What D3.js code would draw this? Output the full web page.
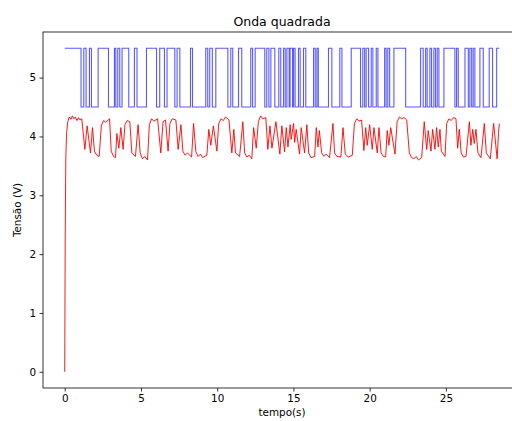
<!DOCTYPE html>
<html>
<head>
<meta charset="utf-8">
<script src="https://cdn.jsdelivr.net/npm/d3@7"></script>
<style>
  body { margin: 0; background: #fff; }
  svg { display: block; font-family: "DejaVu Sans", sans-serif; }
</style>
</head>
<body>
<div id="chart"></div>
<script>
// square wave: times where the level changes (step-after), and the level from that time on
const blueTime = [0, 1.07, 1.25, 1.40, 1.62, 1.75, 2.19, 2.87, 3.26, 3.35, 3.48, 3.61, 3.76, 4.20,
  4.57, 4.74, 5.36, 6.02, 6.23, 6.54, 6.71, 7.22, 7.37, 7.55, 8.25, 8.38, 9.25, 9.38, 9.51, 9.68,
  9.91, 10.70, 10.89, 11.02, 11.40, 11.61, 12.20, 12.32, 12.49, 13.12, 13.25, 13.39, 13.52, 13.78,
  14.04, 14.17, 14.35, 14.46, 14.57, 14.72, 14.78, 14.94, 15.01, 15.11, 15.33, 15.44, 15.66, 15.81,
  16.32, 16.43, 16.54, 16.63, 17.30, 17.52, 18.04, 18.18, 18.79, 19.40, 19.55, 19.67, 19.77, 19.93,
  20.10, 20.21, 20.43, 20.54, 20.98, 21.08, 21.19, 21.31, 21.59, 22.36, 23.34, 23.51, 23.67, 23.77,
  23.95, 24.06, 24.21, 24.32, 24.43, 24.54, 24.87, 25.59, 25.70, 25.81, 26.25, 26.47, 26.57, 26.69,
  26.79, 26.90, 27.23, 27.45, 27.84, 28.06, 28.33, 28.50];
const blueLevel = [5.5, 4.5, 5.5, 4.5, 5.5, 4.5, 5.5, 4.5, 5.5, 4.5, 5.5, 4.5, 5.5, 4.5,
  5.5, 4.5, 5.5, 4.5, 5.5, 4.5, 5.5, 4.5, 5.5, 4.5, 5.5, 4.5, 5.5, 4.5, 5.5, 4.5,
  5.5, 4.5, 5.5, 4.5, 5.5, 4.5, 5.5, 4.5, 5.5, 4.5, 5.5, 4.5, 5.5, 4.5,
  5.5, 4.5, 5.5, 4.5, 5.5, 4.5, 5.5, 4.5, 5.5, 4.5, 5.5, 4.5, 5.5, 4.5,
  5.5, 4.5, 5.5, 4.5, 5.5, 4.5, 5.5, 4.5, 5.5, 4.5, 5.5, 4.5, 5.5, 4.5,
  5.5, 4.5, 5.5, 4.5, 5.5, 4.5, 5.5, 4.5, 5.5, 4.5, 5.5, 4.5, 5.5, 4.5,
  5.5, 4.5, 5.5, 4.5, 5.5, 4.5, 5.5, 4.5, 5.5, 4.5, 5.5, 4.5, 5.5, 4.5,
  5.5, 4.5, 5.5, 4.5, 5.5, 4.5, 5.5, 5.5];

const redTime = [0, 0.03, 0.07, 0.12, 0.2, 0.3, 0.4, 0.5, 0.6, 0.7, 0.8, 0.9, 1.0, 1.12,
  1.32, 1.47, 1.69, 1.82, 1.95, 2.1, 2.26, 2.4, 2.55, 2.7, 2.94, 3.05, 3.2, 3.33, 3.42, 3.55,
  3.68, 3.83, 3.95, 4.1, 4.27, 4.4, 4.64, 4.81, 4.95, 5.1, 5.25, 5.43, 5.55, 5.7, 5.85, 6.09,
  6.3, 6.45, 6.61, 6.78, 6.9, 7.05, 7.29, 7.44, 7.62, 7.75, 7.9, 8.05, 8.32, 8.45, 8.6, 8.75,
  8.9, 9.05, 9.32, 9.45, 9.58, 9.75, 9.98, 10.1, 10.25, 10.4, 10.55, 10.77, 10.96, 11.09, 11.2,
  11.47, 11.68, 11.8, 11.95, 12.1, 12.27, 12.39, 12.56, 12.7, 12.85, 13.0, 13.19, 13.32, 13.46,
  13.59, 13.85, 14.11, 14.24, 14.42, 14.53, 14.64, 14.79, 14.85, 15.01, 15.08, 15.18, 15.4,
  15.51, 15.73, 15.88, 16.0, 16.15, 16.39, 16.5, 16.61, 16.7, 16.85, 17.0, 17.15, 17.37, 17.59,
  17.7, 17.85, 18.11, 18.25, 18.4, 18.6, 18.86, 19.0, 19.15, 19.3, 19.47, 19.62, 19.74, 19.84,
  20.0, 20.17, 20.28, 20.5, 20.61, 20.75, 20.9, 21.05, 21.15, 21.26, 21.38, 21.66, 21.8, 21.95,
  22.1, 22.25, 22.43, 22.6, 22.75, 22.9, 23.05, 23.2, 23.41, 23.58, 23.74, 23.84, 24.02, 24.13,
  24.28, 24.39, 24.5, 24.61, 24.7, 24.94, 25.05, 25.2, 25.35, 25.5, 25.66, 25.77, 25.88, 26.0,
  26.15, 26.32, 26.54, 26.64, 26.76, 26.86, 26.97, 27.1, 27.3, 27.52, 27.65, 27.91, 28.13,
  28.36, 28.45, 28.5];
const redValue = [0, 2.2, 3.6, 4.05, 4.25, 4.33, 4.29, 4.35, 4.3, 4.33, 4.27, 4.32, 4.28, 4.3,
  3.78, 4.18, 3.72, 4.15, 3.75, 3.68, 3.66, 4.18, 4.27, 4.24, 4.3, 3.75, 3.66, 3.64, 4.05, 3.8,
  4.15, 3.78, 4.2, 4.27, 4.25, 3.72, 3.66, 4.2, 3.72, 3.62, 3.66, 3.6, 4.2, 4.3, 4.26, 4.3,
  3.72, 4.25, 4.28, 3.75, 4.22, 4.3, 4.28, 3.78, 4.2, 3.75, 3.68, 3.72, 3.65, 4.22, 3.74, 3.66,
  3.7, 3.64, 3.68, 4.12, 3.85, 4.18, 3.75, 4.22, 4.3, 4.27, 4.33, 4.28, 3.72, 4.12, 3.72,
  3.66, 4.25, 3.72, 3.65, 3.68, 3.62, 4.15, 3.8, 4.25, 4.35, 4.3, 4.32, 3.78, 4.18,
  3.8, 4.25, 3.7, 4.18, 3.74, 4.15, 3.82, 4.2, 3.95, 4.22, 3.9, 4.12, 3.7,
  4.15, 3.72, 4.2, 3.72, 3.64, 3.66, 4.15, 3.82, 4.1, 3.72, 3.66, 3.7, 3.64, 4.22,
  3.72, 3.66, 3.65, 4.15, 3.7, 3.65, 3.68, 4.22, 4.3, 4.26, 4.28, 3.76, 4.15, 3.85,
  4.2, 3.78, 4.15, 3.72, 4.15, 3.72, 3.66, 3.65, 4.1, 3.85, 4.15, 3.7, 4.25, 4.33,
  4.3, 4.32, 4.28, 3.72, 3.64, 3.62, 3.66, 3.6, 3.64, 4.25, 3.78, 4.1, 3.75, 4.12,
  3.78, 4.15, 3.82, 4.12, 3.75, 3.66, 4.22, 4.3, 4.27, 4.32, 4.3, 3.8, 4.12, 3.72,
  3.65, 3.66, 4.25, 3.85, 4.12, 3.88, 4.12, 3.72, 3.64, 4.22, 3.72, 3.62, 4.22,
  3.62, 4.05, 4.22];

const xTicks = [0, 5, 10, 15, 20, 25];
const yTicks = [0, 1, 2, 3, 4, 5];

const width = 512, height = 421;
const margin = { top: 32, right: -9, bottom: 33, left: 43 };

const svg = d3.select('#chart').append('svg')
  .attr('width', width)
  .attr('height', height);

const x = d3.scaleLinear().domain([-1.425, 29.925]).range([margin.left, width - margin.right]);
const y = d3.scaleLinear().domain([-0.275, 5.775]).range([height - margin.bottom, margin.top]);

const clip = svg.append('clipPath').attr('id', 'plot')
  .append('rect')
  .attr('x', margin.left).attr('y', margin.top)
  .attr('width', width - margin.right - margin.left)
  .attr('height', height - margin.bottom - margin.top);

const plot = svg.append('g').attr('clip-path', 'url(#plot)');

const blue = blueTime.map((t, i) => [t, blueLevel[i]]);
const red = redTime.map((t, i) => [t, redValue[i]]);

plot.append('path')
  .datum(blue)
  .attr('fill', 'none')
  .attr('stroke', '#0000ff')
  .attr('stroke-opacity', 0.65)
  .attr('stroke-width', 1.1)
  .attr('d', d3.line().x(d => x(d[0])).y(d => y(d[1])).curve(d3.curveStepAfter));

plot.append('path')
  .datum(red)
  .attr('fill', 'none')
  .attr('stroke', '#ff0000')
  .attr('stroke-opacity', 0.9)
  .attr('stroke-width', 1)
  .attr('stroke-linejoin', 'round')
  .attr('d', d3.line().x(d => x(d[0])).y(d => y(d[1])));

// axes
const xAxis = svg.append('g')
  .attr('transform', `translate(0,${height - margin.bottom})`)
  .call(d3.axisBottom(x).tickValues(xTicks).tickSize(3.5).tickPadding(3.5).tickFormat(d3.format('d')));
const yAxis = svg.append('g')
  .attr('transform', `translate(${margin.left},0)`)
  .call(d3.axisLeft(y).tickValues(yTicks).tickSize(3.5).tickPadding(3.5).tickFormat(d3.format('d')));

[xAxis, yAxis].forEach(g => {
  g.select('.domain').remove();
  g.selectAll('.tick line').attr('stroke', '#000').attr('stroke-width', 0.8);
  g.selectAll('.tick text')
    .attr('fill', '#000')
    .style('font-family', '"DejaVu Sans", sans-serif')
    .style('font-size', '10.4px');
});

// frame
svg.append('rect')
  .attr('x', margin.left).attr('y', margin.top)
  .attr('width', width - margin.right - margin.left)
  .attr('height', height - margin.bottom - margin.top)
  .attr('fill', 'none')
  .attr('stroke', '#000')
  .attr('stroke-width', 0.8);

svg.append('text')
  .attr('x', (margin.left + width - margin.right) / 2)
  .attr('y', 26)
  .attr('text-anchor', 'middle')
  .style('font-size', '12.5px')
  .text('Onda quadrada');

svg.append('text')
  .attr('x', (margin.left + width - margin.right) / 2)
  .attr('y', 416)
  .attr('text-anchor', 'middle')
  .style('font-size', '10.4px')
  .text('tempo(s)');

svg.append('text')
  .attr('transform', `translate(21,${(margin.top + height - margin.bottom) / 2}) rotate(-90)`)
  .attr('text-anchor', 'middle')
  .style('font-size', '10.4px')
  .text('Tensão (V)');
</script>
</body>
</html>
